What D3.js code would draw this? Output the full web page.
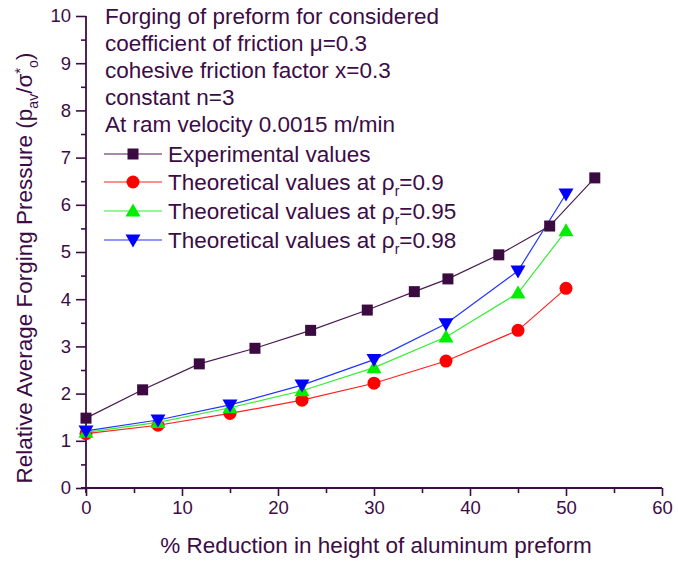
<!DOCTYPE html>
<html>
<head>
<meta charset="utf-8">
<script src="https://cdn.jsdelivr.net/npm/d3@7"></script>
<style>
  html, body { margin: 0; padding: 0; background: #fff; }
  svg { display: block; font-family: "Liberation Sans", Arial, sans-serif; }
</style>
</head>
<body>
<svg id="chart" width="678" height="563"></svg>
<script>
// Experimental measurements (x = % reduction, y = relative pressure)
const expX = [0, 5.9, 11.8, 17.6, 23.4, 29.3, 34.2, 37.7, 43.0, 48.3, 53.0];
const expY = [1.48, 2.08, 2.63, 2.96, 3.34, 3.77, 4.16, 4.43, 4.94, 5.55, 6.57];

// Theoretical predictions at three relative densities
const theoX = [0, 7.5, 15, 22.5, 30, 37.5, 45, 50];
const rho090 = [1.15, 1.33, 1.58, 1.86, 2.22, 2.69, 3.34, 4.23];
const rho095 = [1.18, 1.39, 1.70, 2.06, 2.55, 3.20, 4.13, 5.45];
const rho098 = [1.21, 1.44, 1.76, 2.18, 2.72, 3.48, 4.60, 6.23];

const xTicks = [0, 10, 20, 30, 40, 50, 60];
const yTicks = [0, 1, 2, 3, 4, 5, 6, 7, 8, 9, 10];

const noteLines = [
  "Forging of preform for considered",
  "coefficient of friction \u03bc=0.3",
  "cohesive friction factor x=0.3",
  "constant n=3",
  "At ram velocity 0.0015 m/min"
];

const series = [
  { name: "Experimental values", sub: null, val: null, xs: expX, ys: expY, line: "#4a1a52", fill: "#3a0a40", shape: "square" },
  { name: "Theoretical values at \u03c1", sub: "r", val: "=0.9", xs: theoX, ys: rho090, line: "#ff2020", fill: "#ff0000", shape: "circle" },
  { name: "Theoretical values at \u03c1", sub: "r", val: "=0.95", xs: theoX, ys: rho095, line: "#33ee33", fill: "#00ee00", shape: "up" },
  { name: "Theoretical values at \u03c1", sub: "r", val: "=0.98", xs: theoX, ys: rho098, line: "#2233ff", fill: "#0000ff", shape: "down" }
];

const ink = "#3c0c46";
const svg = d3.select("#chart");
const plotL = 86, plotR = 662, plotT = 16, plotB = 488;

const x = d3.scaleLinear().domain([0, 60]).range([plotL, plotR]);
const y = d3.scaleLinear().domain([0, 10]).range([plotB, plotT]);

// Axes: major ticks with labels, minor ticks between
const xAxis = d3.axisBottom(x).tickValues(xTicks).tickSize(8).tickPadding(5).tickFormat(d3.format("d"));
const xMinor = d3.axisBottom(x).tickValues(d3.range(5, 60, 10)).tickSize(5).tickFormat("");
const yAxis = d3.axisLeft(y).tickValues(yTicks).tickSize(10).tickPadding(5).tickFormat(d3.format("d"));
const yMinor = d3.axisLeft(y).tickValues(d3.range(0.5, 10, 1)).tickSize(5).tickFormat("");

function styleAxis(g) {
  g.select(".domain").remove();
  g.selectAll("line").attr("stroke", ink).attr("stroke-width", 1.6);
  g.selectAll("text").attr("fill", ink).style("font-size", "18.5px").style("font-family", "Liberation Sans, Arial, sans-serif");
}

svg.append("g").attr("transform", `translate(0,${plotB})`).call(xAxis).call(styleAxis);
svg.append("g").attr("transform", `translate(0,${plotB})`).call(xMinor).call(styleAxis);
svg.append("g").attr("transform", `translate(${plotL},0)`).call(yAxis).call(styleAxis);
svg.append("g").attr("transform", `translate(${plotL},0)`).call(yMinor).call(styleAxis);

// Axis lines
svg.append("line").attr("x1", plotL - 5).attr("x2", plotR).attr("y1", plotB).attr("y2", plotB)
  .attr("stroke", ink).attr("stroke-width", 1.8);
svg.append("line").attr("x1", plotL).attr("x2", plotL).attr("y1", plotT).attr("y2", plotB + 5)
  .attr("stroke", ink).attr("stroke-width", 1.8);

// Axis titles
svg.append("text").attr("x", 376).attr("y", 553).attr("text-anchor", "middle")
  .attr("fill", ink).style("font-size", "22.5px").text("% Reduction in height of aluminum preform");

const yt = svg.append("text").attr("transform", `translate(32,268) rotate(-90)`)
  .attr("text-anchor", "middle").attr("fill", ink).style("font-size", "22.5px");
yt.append("tspan").text("Relative Average Forging Pressure (p");
yt.append("tspan").attr("dy", 6).style("font-size", "14px").text("av");
yt.append("tspan").attr("dy", -6).text("/\u03c3");
yt.append("tspan").attr("dy", -7).style("font-size", "15px").text("*");
yt.append("tspan").attr("dy", 13).style("font-size", "14px").text("o");
yt.append("tspan").attr("dy", -6).text(")");

// Marker drawing
function marker(g, shape, cx, cy, fill) {
  if (shape === "square") {
    g.append("rect").attr("x", cx - 5.5).attr("y", cy - 5.5).attr("width", 11).attr("height", 11).attr("fill", fill);
  } else if (shape === "circle") {
    g.append("circle").attr("cx", cx).attr("cy", cy).attr("r", 6.5).attr("fill", fill);
  } else if (shape === "up") {
    g.append("path").attr("d", `M${cx},${cy - 7.5}L${cx + 7.5},${cy + 5.5}L${cx - 7.5},${cy + 5.5}Z`).attr("fill", fill);
  } else {
    g.append("path").attr("d", `M${cx},${cy + 7.5}L${cx + 7.5},${cy - 5.5}L${cx - 7.5},${cy - 5.5}Z`).attr("fill", fill);
  }
}

const line = d3.line().x(d => x(d[0])).y(d => y(d[1]));

// Theoretical series underneath, experimental series on top
[1, 2, 3, 0].forEach(i => {
  const s = series[i];
  const pts = s.xs.map((v, k) => [v, s.ys[k]]);
  const g = svg.append("g");
  g.append("path").attr("d", line(pts)).attr("fill", "none").attr("stroke", s.line).attr("stroke-width", 1.2);
  pts.forEach(p => marker(g, s.shape, x(p[0]), y(p[1]), s.fill));
});

// Notes
const note = svg.append("g");
noteLines.forEach((t, i) => {
  note.append("text").attr("x", 105).attr("y", 24 + i * 27.1).attr("fill", ink).style("font-size", "22.5px").text(t);
});

// Legend
const legRows = [154, 182, 211, 240];
series.forEach((s, i) => {
  const cy = legRows[i];
  const g = svg.append("g");
  g.append("line").attr("x1", 104).attr("x2", 162).attr("y1", cy).attr("y2", cy).attr("stroke", s.line).attr("stroke-width", 1.2);
  marker(g, s.shape, 133, cy, s.fill);
  const t = g.append("text").attr("x", 168).attr("y", cy + 7.5).attr("fill", ink).style("font-size", "22.5px");
  t.append("tspan").text(s.name);
  if (s.sub) {
    t.append("tspan").attr("dy", 6).style("font-size", "14px").text(s.sub);
    t.append("tspan").attr("dy", -6).text(s.val);
  }
});
</script>
</body>
</html>
